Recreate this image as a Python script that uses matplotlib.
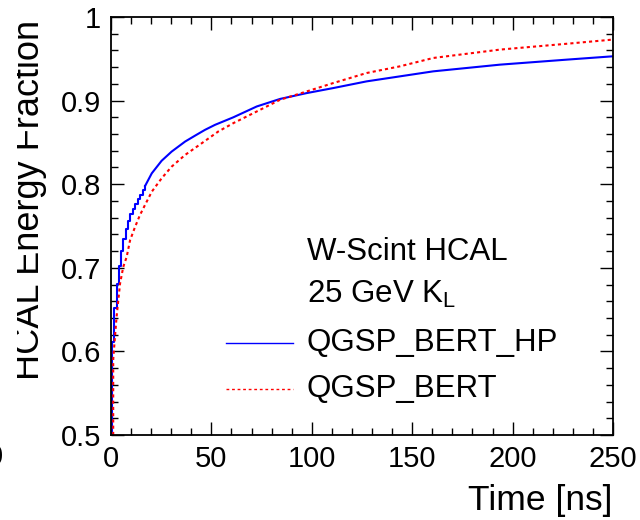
import matplotlib
matplotlib.use("Agg")
import matplotlib.pyplot as plt
from matplotlib.lines import Line2D
from matplotlib.ticker import MultipleLocator, FuncFormatter
from matplotlib.transforms import Bbox, TransformedBbox

plt.rcParams["font.family"] = ["Liberation Sans", "DejaVu Sans"]
plt.rcParams["mathtext.fontset"] = "custom"
plt.rcParams["mathtext.rm"] = "Liberation Sans"

# QGSP_BERT_HP (blue, histogram steps at early times)
blue_t = [0, 0.3, 1.6, 2.8, 4.0, 5.1, 6.2, 7.4, 8.5, 9.7, 10.8, 12.0, 13.2, 14.6, 15.8, 17.0,
          20.3, 25.2, 30.2, 36.9, 41.8, 46.8, 51.8, 60.9, 72.6, 84.2, 97.5, 110.7, 127.3,
          143.9, 160.5, 193.7, 227, 250]
blue_v = [0.5, 0.611, 0.652, 0.681, 0.702, 0.720, 0.735, 0.746, 0.756, 0.764, 0.770, 0.776,
          0.782, 0.787, 0.793, 0.798, 0.813, 0.828, 0.839, 0.851, 0.858, 0.865, 0.871, 0.880,
          0.893, 0.902, 0.909, 0.915, 0.923, 0.929, 0.935, 0.943, 0.949, 0.953]
n_steps = 16

# QGSP_BERT (red dotted)
red_t = [1.1, 1.1, 1.6, 2.8, 4.5, 6.1, 7.8, 9.5, 12, 14.4, 16.9, 20.3, 25.2, 30.2, 36.9,
         45.2, 53.4, 60.9, 72.6, 84.2, 97.5, 110.7, 127.3, 143.9, 160.5, 193.7, 227, 250]
red_v = [0.5, 0.59, 0.606, 0.642, 0.681, 0.701, 0.713, 0.733, 0.749, 0.763, 0.775, 0.791,
         0.807, 0.821, 0.835, 0.849, 0.863, 0.873, 0.887, 0.901, 0.911, 0.921, 0.933, 0.941,
         0.951, 0.961, 0.968, 0.973]

fig = plt.figure(figsize=(6.4, 5.2), dpi=100)
ax = fig.add_axes([111 / 640, 85 / 520, 502 / 640, 418 / 520])

ax.plot(blue_t[:n_steps], blue_v[:n_steps], color="#0000ff", lw=1.5, drawstyle="steps-post")
ax.plot(blue_t[n_steps - 1:], blue_v[n_steps - 1:], color="#0000ff", lw=1.5)
ax.plot(red_t, red_v, color="#ff0000", lw=1.5, linestyle=(0, (1.5, 1.5)))

ax.set_xlim(0, 250)
ax.set_ylim(0.5, 1.0)
ax.xaxis.set_major_locator(MultipleLocator(50))
ax.xaxis.set_minor_locator(MultipleLocator(10))
ax.yaxis.set_major_locator(MultipleLocator(0.1))
ax.yaxis.set_minor_locator(MultipleLocator(0.02))
ax.yaxis.set_major_formatter(FuncFormatter(lambda v, p: "1" if abs(v - 1) < 1e-6 else f"{v:.1f}"))
ax.tick_params(which="both", direction="in", top=True, right=True, width=1.0, labelsize=21)
ax.tick_params(which="major", length=9.5, pad=7)
ax.tick_params(which="minor", length=4.8)
for s in ax.spines.values():
    s.set_linewidth(1.3)

# legend block
def fx(px):
    return (px - 111) / 502

def fy(py):
    return (435 - py) / 418

fs_leg = 22.5
ax.text(fx(307), fy(260), "W-Scint HCAL", transform=ax.transAxes, fontsize=fs_leg, va="baseline")
ax.text(fx(307), fy(303), r"25 GeV K$_{\rm L}$", transform=ax.transAxes, fontsize=fs_leg, va="baseline")
ax.text(fx(307), fy(350.7), "QGSP_BERT_HP", transform=ax.transAxes, fontsize=fs_leg, va="baseline")
ax.text(fx(307), fy(396.7), "QGSP_BERT", transform=ax.transAxes, fontsize=fs_leg, va="baseline")
ax.add_line(Line2D([fx(226), fx(293)], [fy(342.7)] * 2, transform=ax.transAxes,
                   color="#0000ff", lw=1.0))
ax.add_line(Line2D([fx(226), fx(293)], [fy(389)] * 2, transform=ax.transAxes,
                   color="#ff0000", lw=1.0, linestyle=(0, (2, 2))))

fig.text(612 / 640, 1 - 510 / 520, "Time [ns]", fontsize=25.5, ha="right", va="baseline")
ylab = fig.text(39 / 640, 1 - 380 / 520, "HCAL Energy Fraction", fontsize=26, rotation=90,
                rotation_mode="anchor", ha="left", va="baseline")
ylab.set_clip_box(TransformedBbox(Bbox([[17 / 640, 0], [1, 1]]), fig.transFigure))
ylab.set_clip_on(True)
fig.text(-5 / 640, 1 - 457 / 520, "0", fontsize=21, ha="center", va="center")

fig.savefig("out.png", dpi=100)
